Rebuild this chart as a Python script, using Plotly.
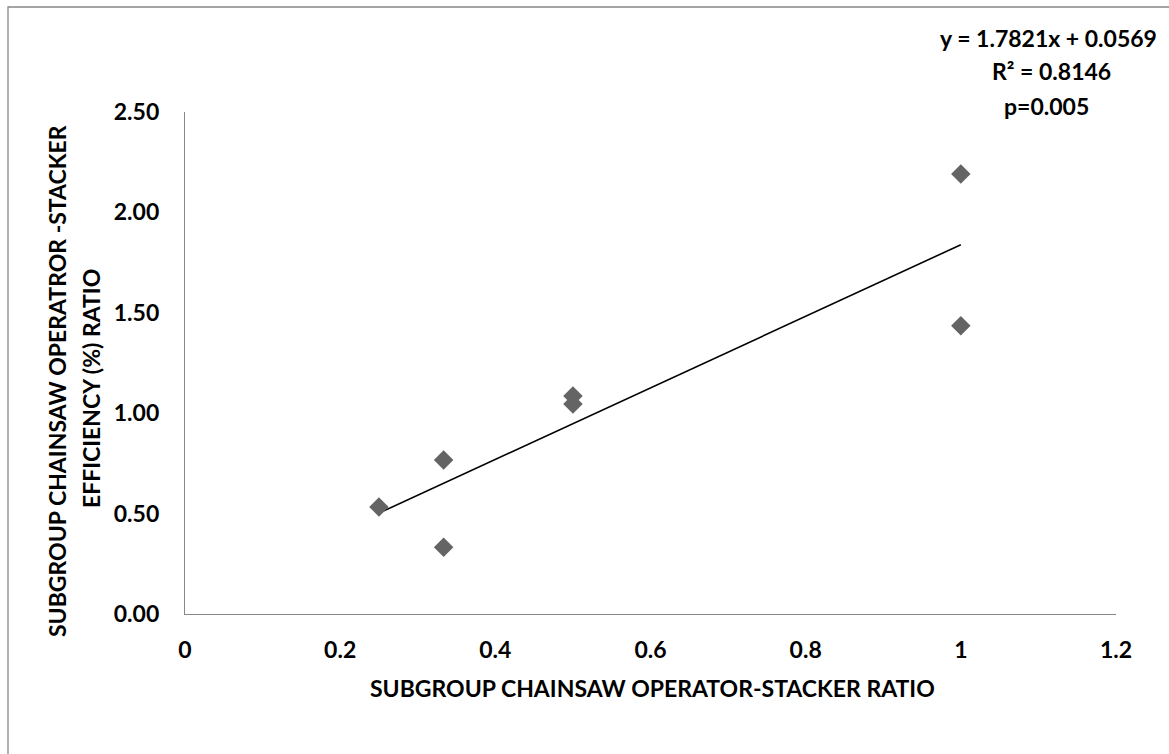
import plotly.graph_objects as go

# Subgroup ratios and the corresponding efficiency ratios
operator_stacker_ratio = [0.25, 1/3, 1/3, 0.5, 0.5, 1.0, 1.0]
efficiency_ratio = [0.533, 0.767, 0.332, 1.086, 1.046, 2.191, 1.436]

# Linear trend as reported on the chart
slope = 1.7821
intercept = 0.0569
trend_x = [min(operator_stacker_ratio), max(operator_stacker_ratio)]
trend_y = [slope * x + intercept for x in trend_x]

y_tickvals = [0.0, 0.5, 1.0, 1.5, 2.0, 2.5]
x_tickvals = [0, 0.2, 0.4, 0.6, 0.8, 1.0, 1.2]
x_ticktext = ["0", "0.2", "0.4", "0.6", "0.8", "1", "1.2"]

W, H = 1169, 754
L, R, T, B = 185, 53, 112, 140
PW, PH = W - L - R, H - T - B


def px(x):
    return (x - L) / PW


def py(y):
    return (H - B - y) / PH


FONT = "Lato"
TXT = dict(family=FONT, size=23, color="#000000", weight="bold")
GRAY = "#878787"

fig = go.Figure()

fig.add_trace(go.Scatter(
    x=trend_x, y=trend_y, mode="lines",
    line=dict(color="#000000", width=1.6),
    showlegend=False, hoverinfo="skip",
))

fig.add_trace(go.Scatter(
    x=operator_stacker_ratio, y=efficiency_ratio, mode="markers",
    marker=dict(symbol="diamond", size=15, color="#646464", line=dict(width=0)),
    showlegend=False,
))

fig.update_xaxes(
    range=[0, 1.2], tickvals=x_tickvals, ticktext=x_ticktext,
    showgrid=False, zeroline=False, showline=True, linecolor=GRAY, linewidth=1.3,
    ticks="", tickfont=TXT, ticklabelstandoff=15,
)
fig.update_yaxes(
    range=[0, 2.5], tickvals=y_tickvals, tickformat=".2f",
    showgrid=False, zeroline=False, showline=True, linecolor=GRAY, linewidth=1.3,
    ticks="", tickfont=TXT, ticklabelstandoff=20,
)

annotations = [
    dict(x=px(652), y=py(688), text="SUBGROUP CHAINSAW OPERATOR-STACKER RATIO"),
    dict(x=px(57), y=py(381), text="SUBGROUP CHAINSAW OPERATROR -STACKER", textangle=-90),
    dict(x=px(91), y=py(389), text="EFFICIENCY (%) RATIO", textangle=-90),
    dict(x=px(1048), y=py(38), text="y = 1.7821x + 0.0569"),
    dict(x=px(1051), y=py(71), text="R² = 0.8146"),
    dict(x=px(1046), y=py(106), text="p=0.005"),
]
for a in annotations:
    a.update(xref="paper", yref="paper", showarrow=False, font=TXT,
             xanchor="center", yanchor="middle")

fig.update_layout(
    width=W, height=H,
    margin=dict(l=L, r=R, t=T, b=B),
    paper_bgcolor="#ffffff", plot_bgcolor="#ffffff",
    annotations=annotations,
    shapes=[dict(
        type="rect", xref="paper", yref="paper",
        x0=px(8), y0=py(H + 10), x1=px(W + 10), y1=py(7),
        line=dict(color=GRAY, width=1.3), fillcolor="rgba(0,0,0,0)", layer="below",
    )],
)

fig.write_html("out.html")
